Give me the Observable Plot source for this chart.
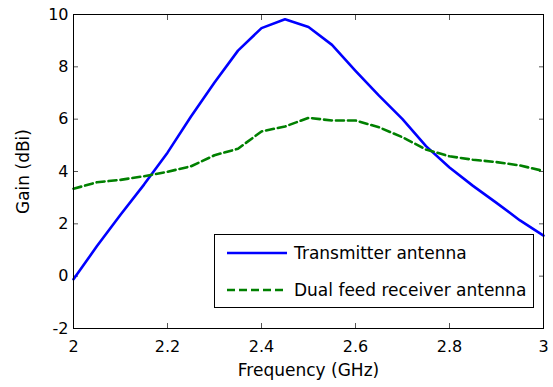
<!DOCTYPE html>
<html>
<head>
<meta charset="utf-8">
<script src="https://cdn.jsdelivr.net/npm/d3@7"></script>
<script src="https://cdn.jsdelivr.net/npm/@observablehq/plot@0.6"></script>
<style>
  html, body { margin: 0; padding: 0; background: #fff; }
  #wrap { position: relative; width: 553px; height: 387px; font-family: "DejaVu Sans", sans-serif; }
  #legend { position: absolute; left: 214px; top: 234px; }
  g[aria-label="x-axis label"], g[aria-label="y-axis label"] { font-size: 17px; }
</style>
</head>
<body>
<div id="wrap"></div>
<script>
const freq = [2.00, 2.05, 2.10, 2.15, 2.20, 2.25, 2.30, 2.35, 2.40, 2.45, 2.50, 2.55, 2.60, 2.65, 2.70, 2.75, 2.80, 2.85, 2.90, 2.95, 3.00];
const transmitter = [-0.12, 1.15, 2.35, 3.50, 4.72, 6.10, 7.40, 8.62, 9.48, 9.82, 9.52, 8.84, 7.85, 6.90, 6.00, 4.97, 4.15, 3.45, 2.80, 2.13, 1.55];
const dualFeed = [3.34, 3.59, 3.68, 3.82, 3.99, 4.20, 4.62, 4.87, 5.53, 5.72, 6.05, 5.95, 5.95, 5.69, 5.31, 4.84, 4.58, 4.45, 4.36, 4.23, 4.02];
const seriesNames = ["Transmitter antenna", "Dual feed receiver antenna"];
const seriesColors = ["#0000ff", "#008000"];
const xTicks = [2, 2.2, 2.4, 2.6, 2.8, 3];
const yTicks = [-2, 0, 2, 4, 6, 8, 10];
const xLabel = "Frequency (GHz)";
const yLabel = "Gain (dBi)";

const rows = [];
freq.forEach((f, i) => {
  rows.push({f, g: transmitter[i], s: seriesNames[0]});
  rows.push({f, g: dualFeed[i], s: seriesNames[1]});
});

const fmt = d => String(d);
const chart = Plot.plot({
  width: 553,
  height: 387,
  marginLeft: 73,
  marginRight: 10,
  marginTop: 14,
  marginBottom: 59,
  style: {fontFamily: "DejaVu Sans, sans-serif", fontSize: "16px", color: "#000", background: "#fff"},
  x: {domain: [2, 3]},
  y: {domain: [-2, 10]},
  marks: [
    Plot.axisX(xTicks, {anchor: "bottom", tickSize: -5, tickPadding: 17, tickFormat: fmt, stroke: "#555", label: xLabel, labelAnchor: "center", labelArrow: "none", labelOffset: 47}),
    Plot.axisX(xTicks, {anchor: "top", tickSize: -5, tickFormat: () => "", stroke: "#555", label: null}),
    Plot.axisY(yTicks, {anchor: "left", tickSize: -5, tickPadding: 10, tickFormat: fmt, stroke: "#555", label: yLabel, labelAnchor: "center", labelArrow: "none", labelOffset: 57}),
    Plot.axisY(yTicks, {anchor: "right", tickSize: -5, tickFormat: () => "", stroke: "#555", label: null}),
    Plot.line(rows.filter(d => d.s === seriesNames[0]), {x: "f", y: "g", stroke: seriesColors[0], strokeWidth: 2.6}),
    Plot.line(rows.filter(d => d.s === seriesNames[1]), {x: "f", y: "g", stroke: seriesColors[1], strokeWidth: 2.6, strokeDasharray: "8,4"}),
    Plot.frame({stroke: "#000", strokeWidth: 1})
  ]
});
const wrap = document.getElementById("wrap");
wrap.appendChild(chart);

// legend overlay
const ns = "http://www.w3.org/2000/svg";
const lg = document.createElementNS(ns, "svg");
lg.setAttribute("id", "legend");
lg.setAttribute("width", 320);
lg.setAttribute("height", 74);
const rect = document.createElementNS(ns, "rect");
rect.setAttribute("x", 0.5); rect.setAttribute("y", 0.5);
rect.setAttribute("width", 319); rect.setAttribute("height", 73);
rect.setAttribute("fill", "#fff"); rect.setAttribute("stroke", "#000");
lg.appendChild(rect);
seriesNames.forEach((name, i) => {
  const y = 19 + i * 37;
  const ln = document.createElementNS(ns, "line");
  ln.setAttribute("x1", 13); ln.setAttribute("x2", 73);
  ln.setAttribute("y1", y); ln.setAttribute("y2", y);
  ln.setAttribute("stroke", seriesColors[i]); ln.setAttribute("stroke-width", 2.6);
  if (i === 1) ln.setAttribute("stroke-dasharray", "8,4");
  lg.appendChild(ln);
  const t = document.createElementNS(ns, "text");
  t.setAttribute("x", 80); t.setAttribute("y", y);
  t.setAttribute("dy", "0.35em");
  t.setAttribute("font-family", "DejaVu Sans, sans-serif");
  t.setAttribute("font-size", "17px");
  t.setAttribute("fill", "#000");
  t.textContent = name;
  lg.appendChild(t);
});
wrap.appendChild(lg);
</script>
</body>
</html>
